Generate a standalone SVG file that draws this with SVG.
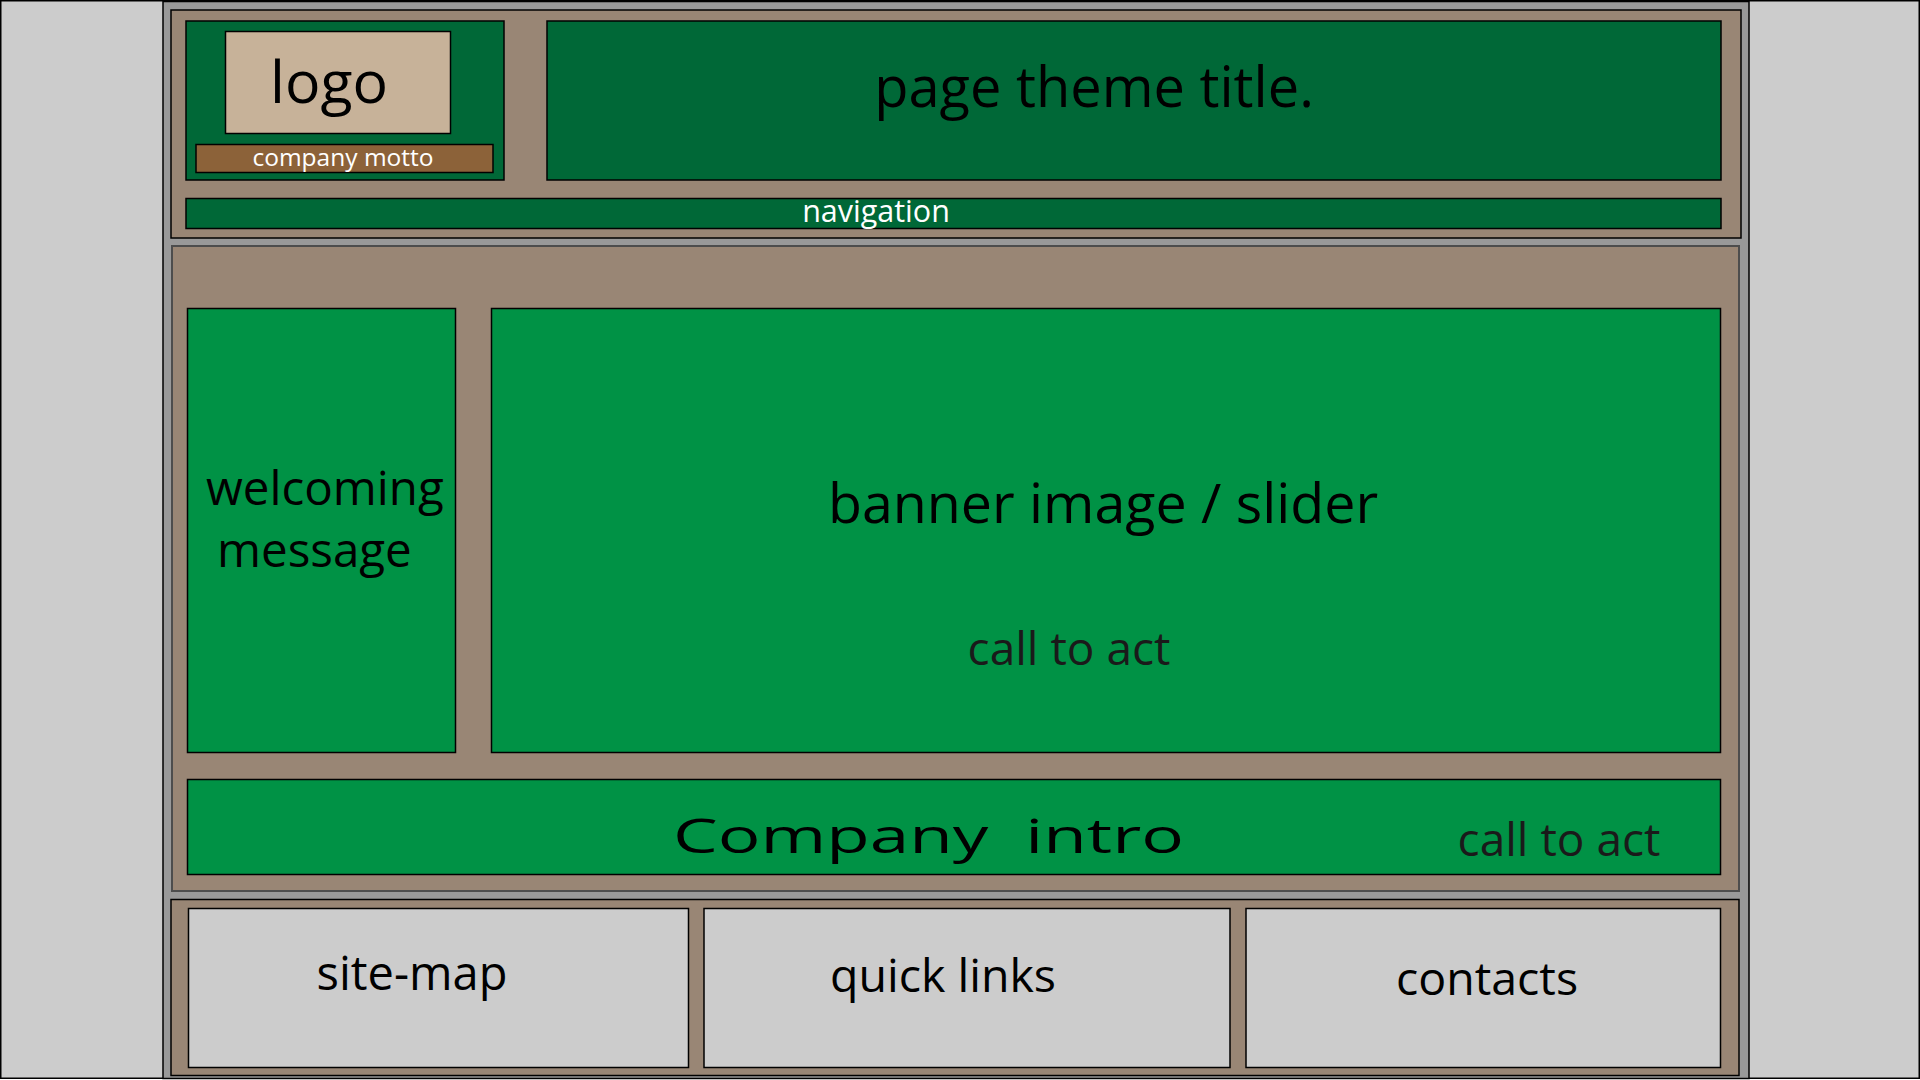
<svg xmlns="http://www.w3.org/2000/svg" width="1920" height="1080" viewBox="0 0 1920 1080">
  <style>
    text { font-family: "Open Sans", "Liberation Sans", sans-serif; fill: #000; }
    .box { stroke: #000; stroke-width: 1.5; }
    .panel { fill: #998675; stroke: #000; stroke-width: 1.5; }
    .dark { fill: #006837; }
    .bright { fill: #009245; }
    .light { fill: #cccccc; }
    .mid { text-anchor: middle; }
    .white { fill: #fff; }
    .soft { fill: #1a1a1a; }
  </style>

  <!-- page background and outer frame -->
  <rect x="0.75" y="0.75" width="1918.5" height="1077.5" fill="#cccccc" stroke="#000" stroke-width="1.5"/>
  <rect x="163" y="1.5" width="1586" height="1077" fill="#999999" stroke="#000" stroke-width="1.5"/>

  <!-- header -->
  <g id="header">
    <rect class="panel" x="171" y="10" width="1570" height="228"/>
  </g>
  <g id="logo-area">
    <rect class="box dark" x="186" y="21" width="318" height="159"/>
  </g>
  <g id="logo">
    <rect class="box" fill="#c7b299" x="225.5" y="31.5" width="225" height="102"/>
    <text class="mid" x="329" y="103" font-size="59">logo</text>
  </g>
  <g id="motto">
    <rect class="box" fill="#8c6239" x="196" y="144.5" width="297" height="28"/>
    <text class="mid white" x="343" y="166" font-size="24.5">company motto</text>
  </g>
  <g id="title">
    <rect class="box dark" x="547" y="21" width="1174" height="159"/>
    <text class="mid" x="1094" y="107" font-size="56">page theme title.</text>
  </g>
  <g id="navigation">
    <rect class="box dark" x="186" y="198.5" width="1535" height="30"/>
    <text class="mid white" x="876" y="222" font-size="30.5">navigation</text>
  </g>

  <!-- main content -->
  <g id="main">
    <rect fill="#998675" stroke="#4d4d4d" stroke-width="2" x="172" y="246" width="1567" height="645"/>
  </g>
  <g id="welcome">
    <rect class="box bright" x="187.5" y="308.5" width="268" height="444"/>
    <text x="206" y="505" font-size="47.5">welcoming</text>
    <text x="217" y="567" font-size="47.5">message</text>
  </g>
  <g id="banner">
    <rect class="box bright" x="491.5" y="308.5" width="1229" height="444"/>
    <text class="mid" x="1103" y="523" font-size="55.5">banner image / slider</text>
    <text class="mid soft" x="1069" y="665" font-size="46">call to act</text>
  </g>
  <g id="intro">
    <rect class="box bright" x="187.5" y="779.5" width="1533" height="95"/>
    <text x="673" y="853" font-size="47" textLength="511" lengthAdjust="spacingAndGlyphs" xml:space="preserve">Company  intro</text>
    <text class="mid soft" x="1559" y="856" font-size="46">call to act</text>
  </g>

  <!-- footer -->
  <g id="footer">
    <rect class="panel" x="171" y="899.5" width="1568" height="176"/>
  </g>
  <g id="site-map">
    <rect class="box light" x="188.5" y="908.5" width="500" height="159"/>
    <text class="mid" x="412" y="990" font-size="47">site-map</text>
  </g>
  <g id="quick-links">
    <rect class="box light" x="704" y="908.5" width="526" height="159"/>
    <text class="mid" x="943" y="992" font-size="46.5">quick links</text>
  </g>
  <g id="contacts">
    <rect class="box light" x="1246" y="908.5" width="474.5" height="159"/>
    <text class="mid" x="1487" y="995" font-size="46.5">contacts</text>
  </g>

  <g id="connectors"/>
</svg>
